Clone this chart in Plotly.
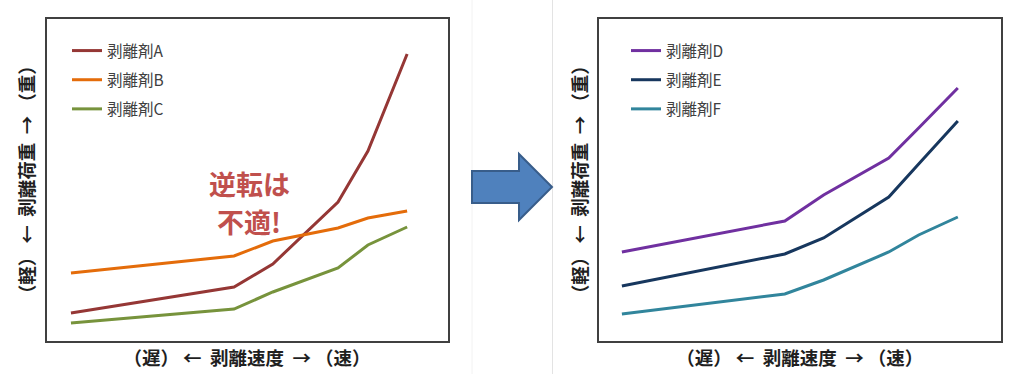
import plotly.graph_objects as go

# Data (arbitrary units)
speed = [0.0, 4.2, 5.2, 6.88, 7.65, 8.66]
load_A = [2.8, 5.4, 7.7, 13.9, 19.0, 28.7]
load_B = [6.8, 8.5, 10.0, 11.3, 12.3, 13.0]
load_C = [1.8, 3.2, 4.9, 7.3, 9.6, 11.4]
load_D = [8.9, 12.0, 14.6, 18.3, 21.3, 25.3]
load_E = [5.5, 8.7, 10.3, 14.4, 17.7, 22.0]
load_F = [2.7, 4.7, 6.1, 8.9, 10.6, 12.4]

names_left = ["剥離剤A", "剥離剤B", "剥離剤C"]
names_right = ["剥離剤D", "剥離剤E", "剥離剤F"]
colors_left = ["#953735", "#E46C0A", "#77933C"]
colors_right = ["#7030A0", "#17375E", "#31859C"]

x_title = "（遅） ←  剥離速度  → （速）"
y_title = "（軽） ←  剥離荷重  → （重）"
note_lines = ["逆転は", "不適!"]
note_y = [15.75, 11.95]

W, H = 1024, 374
FONT = "Noto Sans CJK JP"

def px(x):
    return x / W

def py(y):
    return 1 - y / H

fig = go.Figure()

for name, vals, col in zip(names_left, [load_A, load_B, load_C], colors_left):
    fig.add_trace(go.Scatter(x=speed, y=vals, mode="lines", name=name,
                             line=dict(color=col, width=3),
                             xaxis="x", yaxis="y", legend="legend",
                             legendgroup=name))
for name, vals, col in zip(names_right, [load_D, load_E, load_F], colors_right):
    fig.add_trace(go.Scatter(x=speed, y=vals, mode="lines", name=name,
                             line=dict(color=col, width=3),
                             xaxis="x2", yaxis="y2", legend="legend2",
                             legendgroup=name))

axis_common = dict(showgrid=False, zeroline=False, showticklabels=False,
                   ticks="", showline=True, mirror=True, linecolor="#404040",
                   linewidth=2, automargin=False)
title_font = dict(family=FONT, size=18.5, color="#1f1f1f", weight="bold")
legend_font = dict(family=FONT, size=15.5, color="#404040")

fig.update_layout(
    width=W, height=H,
    margin=dict(l=0, r=0, t=0, b=0),
    paper_bgcolor="white", plot_bgcolor="white",
    font=dict(family=FONT, color="#404040"),
    xaxis=dict(domain=[px(46.5), px(447.5)], range=[-0.63, 9.70],
               title=dict(text=x_title, font=title_font, standoff=10),
               anchor="y", **axis_common),
    yaxis=dict(domain=[py(341), py(18.5)], range=[0, 32.25],
               title=dict(text=y_title, font=title_font, standoff=5),
               anchor="x", **axis_common),
    xaxis2=dict(domain=[px(599), px(1000.5)], range=[-0.59, 9.76],
                title=dict(text=x_title, font=title_font, standoff=10),
                anchor="y2", **axis_common),
    yaxis2=dict(domain=[py(341), py(18.5)], range=[0, 32.25],
                title=dict(text=y_title, font=title_font, standoff=5),
                anchor="x2", **axis_common),
    legend=dict(x=px(67), y=py(34), xanchor="left", yanchor="top",
                bgcolor="rgba(0,0,0,0)", font=legend_font,
                traceorder="grouped", tracegroupgap=6, itemwidth=30),
    legend2=dict(x=px(626), y=py(34), xanchor="left", yanchor="top",
                 bgcolor="rgba(0,0,0,0)", font=legend_font,
                 traceorder="grouped", tracegroupgap=6, itemwidth=30),
    showlegend=True,
)

for txt, yv in zip(note_lines, note_y):
    fig.add_annotation(text=txt, x=4.59, y=yv, xref="x", yref="y",
                       showarrow=False, align="center", borderpad=0,
                       font=dict(family=FONT, size=27, color="#C0504D", weight="bold"))

# faint separators between the two pictures
fig.add_shape(type="line", xref="paper", yref="paper", x0=px(472), x1=px(472),
              y0=0, y1=1, line=dict(color="#f2f2f2", width=1), layer="below")
fig.add_shape(type="line", xref="paper", yref="paper", x0=px(552.5), x1=px(552.5),
              y0=0, y1=1, line=dict(color="#e3e3e3", width=1), layer="below")

# block arrow between the panels
pts = [(472, 171), (519, 171), (519, 154), (552, 187), (519, 220), (519, 203), (472, 203)]
path = "M " + " L ".join(f"{px(a):.5f},{py(b):.5f}" for a, b in pts) + " Z"
fig.add_shape(type="path", path=path, xref="paper", yref="paper",
              fillcolor="#4F81BD", line=dict(color="#385D8A", width=2))

fig.write_html("out.html", config={"displayModeBar": False},
               post_script="document.body.style.margin='0';document.body.style.overflow='hidden';")
